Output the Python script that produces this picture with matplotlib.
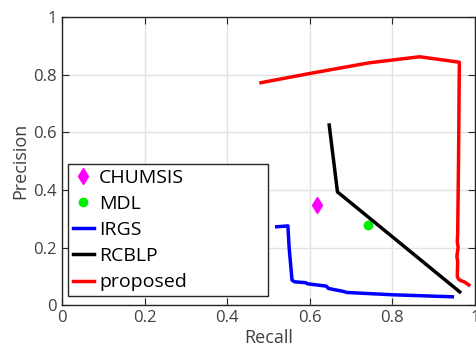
import numpy as np
import matplotlib.pyplot as plt

plt.rcParams['font.family'] = ['Open Sans', 'DejaVu Sans']

# single-point methods
chumsis_r = [0.617]
chumsis_p = [0.347]
mdl_r = [0.740]
mdl_p = [0.278]

# curves (recall, precision)
irgs_r = [0.520, 0.547, 0.550, 0.557, 0.563, 0.590, 0.595, 0.640, 0.645, 0.680, 0.690, 0.800, 0.945]
irgs_p = [0.272, 0.275, 0.200, 0.087, 0.081, 0.078, 0.074, 0.066, 0.058, 0.048, 0.044, 0.036, 0.029]

rcblp_r = [0.647, 0.667, 0.963]
rcblp_p = [0.625, 0.393, 0.046]

prop_r = [0.482, 0.600, 0.744, 0.866, 0.962, 0.960, 0.958, 0.957, 0.959, 0.956, 0.958, 0.957, 0.960, 0.966, 0.975, 0.985]
prop_p = [0.772, 0.804, 0.841, 0.862, 0.843, 0.500, 0.250, 0.220, 0.200, 0.170, 0.150, 0.100, 0.090, 0.085, 0.080, 0.070]

fig = plt.figure(figsize=(4.76, 3.54), dpi=100)
ax = fig.add_axes([0.130, 0.138, 0.868, 0.814])

ax.plot(chumsis_r, chumsis_p, linestyle='none', marker='d', markersize=8, color='#ff00ff', label='CHUMSIS')
ax.plot(mdl_r, mdl_p, linestyle='none', marker='o', markersize=6, color='#00ee00', label='MDL')
ax.plot(irgs_r, irgs_p, color='#0000ff', linewidth=2.5, label='IRGS')
ax.plot(rcblp_r, rcblp_p, color='black', linewidth=2.5, label='RCBLP')
ax.plot(prop_r, prop_p, color='#ff0000', linewidth=2.5, label='proposed')

ax.set_xlim(0, 1)
ax.set_ylim(0, 1)
ticks = [0, 0.2, 0.4, 0.6, 0.8, 1]
ax.set_xticks(ticks)
ax.set_yticks(ticks)
ax.set_xticklabels(['0', '0.2', '0.4', '0.6', '0.8', '1'])
ax.set_yticklabels(['0', '0.2', '0.4', '0.6', '0.8', '1'])
ax.grid(True, color='#e3e3e3', linewidth=1)
ax.set_axisbelow(True)
ax.tick_params(direction='in', length=5, top=True, right=True, labelsize=12,
               colors='#262626', labelcolor='#404040')
for s in ax.spines.values():
    s.set_color('#262626')
    s.set_linewidth(1)

ax.set_xlabel('Recall', fontsize=13, color='#404040', labelpad=2)
ax.set_ylabel('Precision', fontsize=13, color='#404040', labelpad=3)

leg = ax.legend(loc='lower left', bbox_to_anchor=(0.0145, 0.031, 0.484, 0.459), mode='expand',
                fontsize=14, handlelength=1.1, handletextpad=0.25, borderpad=0.25,
                labelspacing=0.42, fancybox=False, framealpha=1, borderaxespad=0)
leg.get_frame().set_edgecolor('#262626')
leg.get_frame().set_linewidth(1)

fig.savefig('out.png', dpi=100)
